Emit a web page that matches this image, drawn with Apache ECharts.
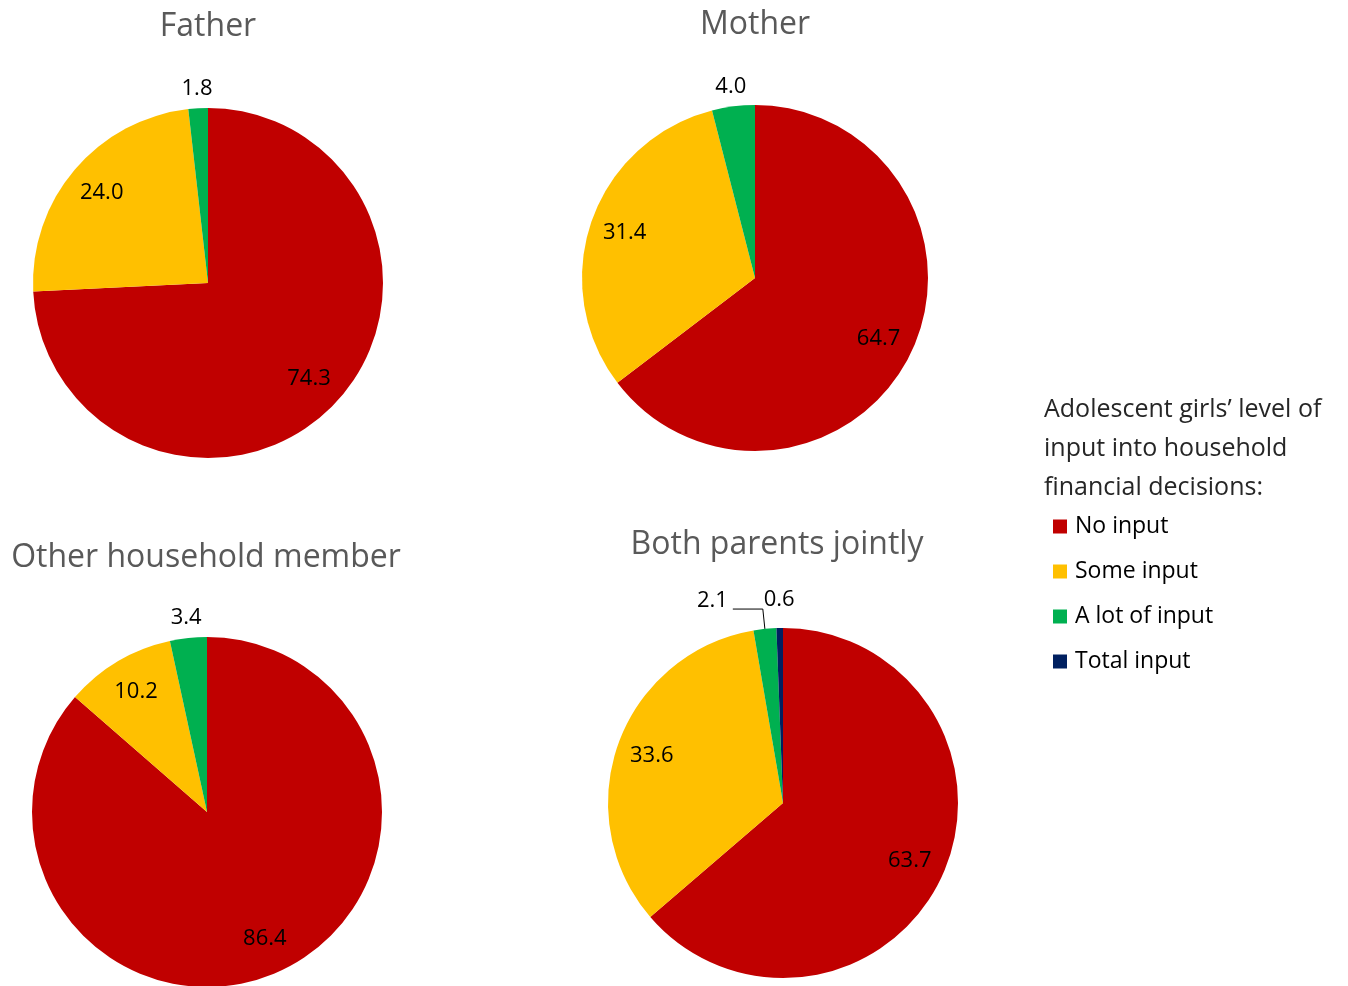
<!DOCTYPE html>
<html>
<head>
<meta charset="utf-8">
<script src="https://cdn.jsdelivr.net/npm/echarts@6/dist/echarts.min.js"></script>
<style>
  html, body { margin: 0; padding: 0; background: #ffffff; }
  #chart { width: 1348px; height: 986px; }
</style>
</head>
<body>
<div id="chart"></div>
<script>
// Categories and shares (%) for each decision-maker
const categories = ['No input', 'Some input', 'A lot of input', 'Total input'];
const panelTitles = ['Father', 'Mother', 'Other household member', 'Both parents jointly'];
const fatherValues = [74.3, 24.0, 1.8];
const motherValues = [64.7, 31.4, 4.0];
const otherMemberValues = [86.4, 10.2, 3.4];
const bothParentsValues = [63.7, 33.6, 2.1, 0.6];
const legendHeading = 'Adolescent girls\u2019 level of\ninput into household\nfinancial decisions:';

const sliceColors = ['#C00000', '#FFC000', '#00B050', '#002060'];
const FONT = '"Open Sans", "Noto Sans", sans-serif';

// Layout of each pie panel
const panels = [
  { title: panelTitles[0], values: fatherValues,      center: [208, 283], r: 175, titleX: 208, titleTop: 11,  outerLen: 20 },
  { title: panelTitles[1], values: motherValues,      center: [755, 278], r: 173, titleX: 755, titleTop: 9,   outerLen: 20 },
  { title: panelTitles[2], values: otherMemberValues, center: [207, 812], r: 175, titleX: 206, titleTop: 542, outerLen: 20 },
  { title: panelTitles[3], values: bothParentsValues, center: [783, 803], r: 175, titleX: 777, titleTop: 529, outerLen: 28, leader: 2 }
];

const fmt = p => Number(p.value).toFixed(1);
const labelText = { fontFamily: FONT, fontSize: 22, color: '#000000' };

const series = [];
const titles = [];

panels.forEach(p => {
  titles.push({
    text: p.title,
    left: p.titleX,
    top: p.titleTop,
    padding: 0,
    textAlign: 'center',
    textStyle: { fontFamily: FONT, fontSize: 32, fontWeight: 'normal', color: '#595959' }
  });

  // Visible slices; thin slices carry their value label outside the pie
  series.push({
    type: 'pie',
    center: p.center,
    radius: p.r,
    startAngle: 90,
    clockwise: true,
    silent: true,
    animation: false,
    avoidLabelOverlap: false,
    label: Object.assign({ position: 'outside', distanceToLabelLine: 0, formatter: fmt }, labelText),
    labelLine: { lineStyle: { color: '#000000', width: 1 } },
    labelLayout: params =>
      params.dataIndex === p.leader ? { verticalAlign: 'bottom' } : { align: 'center' },
    data: p.values.map((v, i) => ({
      name: categories[i],
      value: v,
      itemStyle: { color: sliceColors[i] },
      label: i === p.leader
        ? { show: true, distanceToLabelLine: 5, lineHeight: 16 }
        : { show: v < 5 },
      labelLine: i === p.leader
        ? { show: true, length: 20, length2: 30 }
        : { show: false, length: p.outerLen, length2: 0 }
    }))
  });

  // Transparent ring that places the large-slice labels toward the rim
  series.push({
    type: 'pie',
    center: p.center,
    radius: [p.r * 0.56, p.r],
    startAngle: 90,
    clockwise: true,
    silent: true,
    animation: false,
    avoidLabelOverlap: false,
    itemStyle: { color: 'rgba(0,0,0,0)' },
    label: Object.assign({ position: 'inside', formatter: fmt }, labelText),
    labelLine: { show: false },
    data: p.values.map((v, i) => ({
      name: categories[i],
      value: v,
      label: { show: v >= 5 }
    }))
  });
});

titles.push({
  text: legendHeading,
  left: 1044,
  top: 390,
  padding: 0,
  textStyle: { fontFamily: FONT, fontSize: 25, fontWeight: 'normal', color: '#262626', lineHeight: 39 }
});

const chart = echarts.init(document.getElementById('chart'), null, { renderer: 'canvas' });
chart.setOption({
  backgroundColor: '#ffffff',
  animation: false,
  title: titles,
  legend: {
    data: categories,
    orient: 'vertical',
    left: 1053,
    top: 515,
    padding: 0,
    icon: 'rect',
    itemWidth: 14,
    itemHeight: 14,
    itemGap: 22,
    selectedMode: false,
    textStyle: { fontFamily: FONT, fontSize: 23, color: '#000000', lineHeight: 23, padding: [0, 0, 0, 3] }
  },
  series: series
});
</script>
</body>
</html>
